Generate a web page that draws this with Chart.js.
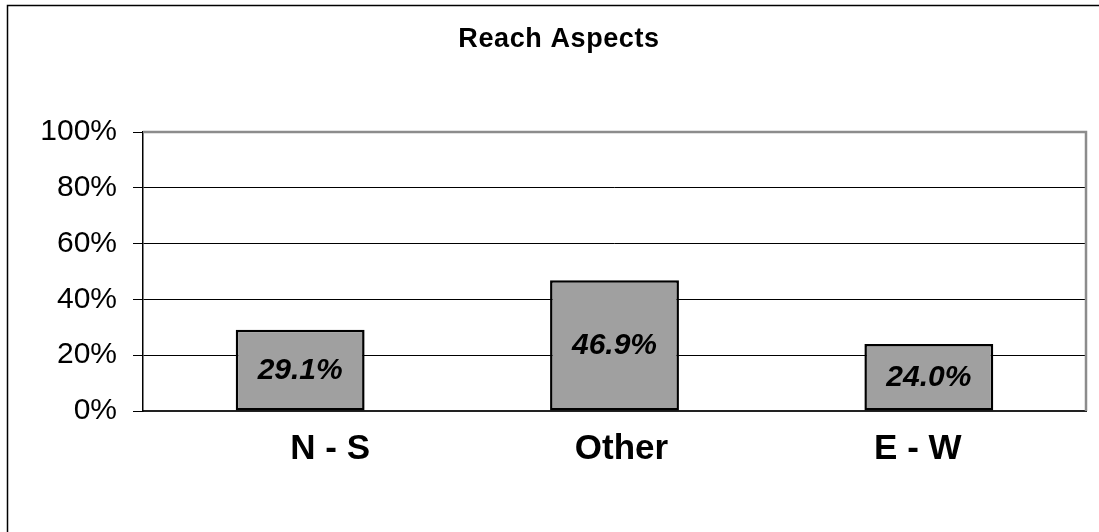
<!DOCTYPE html>
<html>
<head>
<meta charset="utf-8">
<script src="https://cdn.jsdelivr.net/npm/chart.js@4.4.1/dist/chart.umd.min.js"></script>
<style>
  html, body { margin: 0; padding: 0; background: #fff; }
  canvas { display: block; }
</style>
</head>
<body>
<canvas id="c" width="1099" height="532"></canvas>
<script>
// Reach aspect shares (percent of reaches)
const chartTitle = 'Reach Aspects';
const categories = ['N - S', 'Other', 'E - W'];
const shares = [29.1, 46.9, 24.0];
const yTicks = [0, 20, 40, 60, 80, 100];

const FONT = '"Liberation Sans", Arial, sans-serif';
// horizontal nudge of each category caption relative to its slot centre
const captionNudge = [30, 7, -11];

// Frame, title, plot-area outline, category captions and in-bar value labels
const decorations = {
  id: 'decorations',
  beforeDraw(chart) {
    const ctx = chart.ctx;
    ctx.save();
    ctx.fillStyle = '#fff';
    ctx.fillRect(0, 0, chart.width, chart.height);
    ctx.strokeStyle = '#000';
    ctx.lineWidth = 1.5;
    ctx.strokeRect(7.5, 5.5, chart.width + 20, chart.height + 20);
    ctx.fillStyle = '#000';
    ctx.font = 'bold 27px ' + FONT;
    ctx.textAlign = 'center';
    ctx.textBaseline = 'alphabetic';
    ctx.letterSpacing = '0.6px';
    ctx.fillText(chartTitle, 559, 47);
    ctx.restore();
  },
  afterDatasetsDraw(chart) {
    const ctx = chart.ctx;
    const a = chart.chartArea;
    const xs = chart.scales.x;
    ctx.save();
    // plot-area outline (top and right edges)
    ctx.strokeStyle = '#8c8c8c';
    ctx.lineWidth = 2.5;
    ctx.beginPath();
    ctx.moveTo(a.left, a.top);
    ctx.lineTo(a.right, a.top);
    ctx.lineTo(a.right, a.bottom);
    ctx.stroke();
    // category captions under the axis
    ctx.fillStyle = '#000';
    ctx.font = 'bold 35px ' + FONT;
    ctx.textAlign = 'center';
    ctx.textBaseline = 'alphabetic';
    categories.forEach((c, i) => {
      ctx.fillText(c, xs.getPixelForValue(i) + captionNudge[i], a.bottom + 47.5);
    });
    // value labels centred in each bar
    const meta = chart.getDatasetMeta(0);
    ctx.font = 'italic bold 30px ' + FONT;
    meta.data.forEach((bar, i) => {
      const mid = (bar.y + bar.base) / 2;
      ctx.fillText(shares[i].toFixed(1) + '%', bar.x, mid + 8.7);
    });
    ctx.restore();
  }
};

new Chart(document.getElementById('c'), {
  type: 'bar',
  data: {
    labels: categories,
    datasets: [{
      data: shares,
      backgroundColor: '#a0a0a0',
      borderColor: '#000',
      borderWidth: 2.5,
      borderSkipped: false,
      barPercentage: 0.41,
      categoryPercentage: 1
    }]
  },
  options: {
    responsive: false,
    devicePixelRatio: 1,
    animation: false,
    layout: { padding: { top: 132, right: 13, left: 0, bottom: 0 } },
    plugins: {
      legend: { display: false },
      title: { display: false },
      tooltip: { enabled: false }
    },
    scales: {
      x: {
        grid: { display: true, color: 'rgba(0,0,0,0)', drawTicks: false },
        border: { display: true, color: '#222', width: 2 },
        ticks: { display: false },
        afterFit(scale) { scale.height = 121; }
      },
      y: {
        min: 0,
        max: 100,
        afterBuildTicks(scale) { scale.ticks = yTicks.map(v => ({ value: v })); },
        grid: { color: '#000', lineWidth: 1, tickLength: 10 },
        border: { display: true, color: '#000', width: 1.5 },
        ticks: {
          color: '#000',
          padding: 16,
          font: { family: FONT, size: 30 },
          callback: v => v + '%'
        },
        afterFit(scale) { scale.width = 143; }
      }
    }
  },
  plugins: [decorations]
});
</script>
</body>
</html>
